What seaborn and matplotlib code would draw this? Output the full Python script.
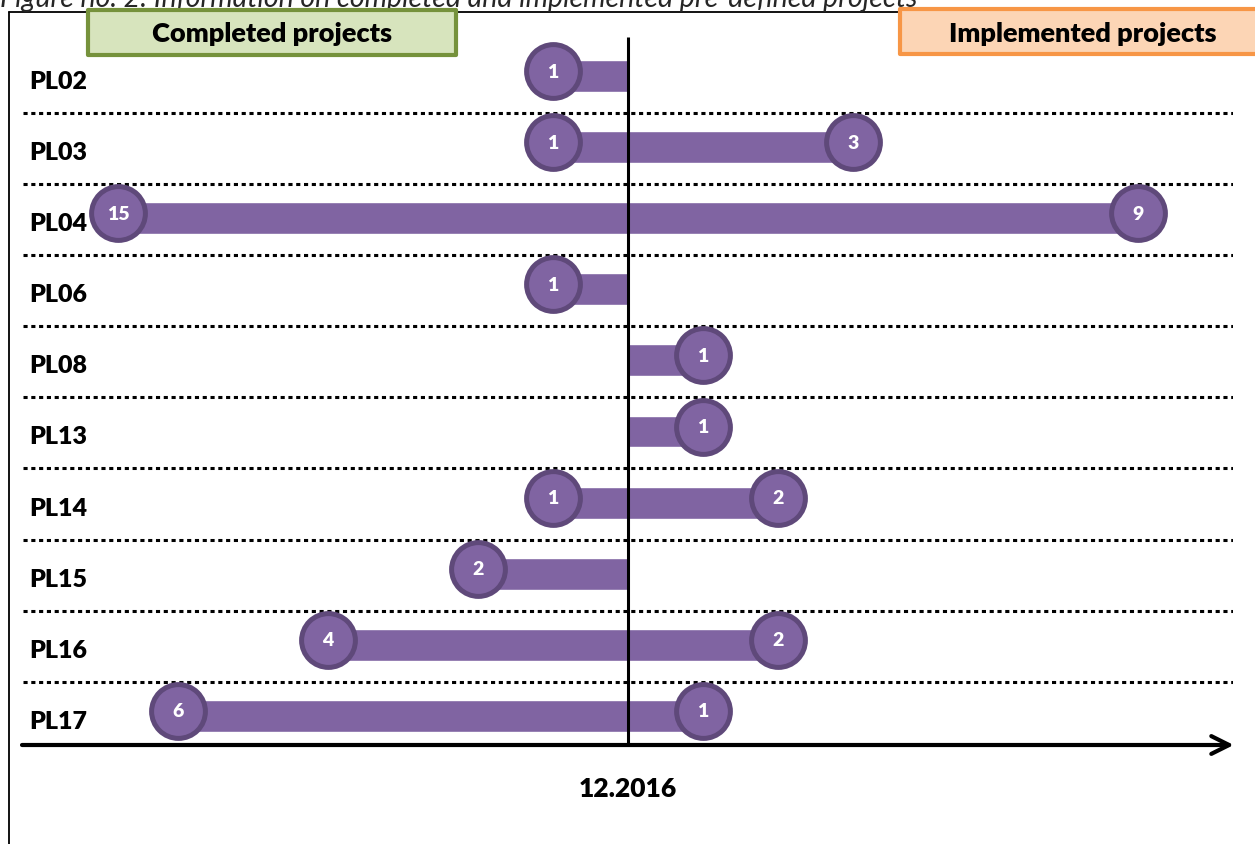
# -*- coding:utf-8 -*-

import numpy as np
import pandas as pd
import matplotlib
matplotlib.use("Agg")
import matplotlib.pyplot as plt
import matplotlib.patches as mpatches
from matplotlib.lines import Line2D
import seaborn as sns


# Datos
projects = ["PL02", "PL03", "PL04", "PL06", "PL08", "PL13", "PL14", "PL15", "PL16", "PL17"]
completed = [1, 1, 15, 1, 0, 0, 1, 2, 4, 6]
implemented = [0, 3, 9, 0, 1, 1, 2, 0, 2, 1]
# En el original las barras de PL04 están cortadas a esta longitud
display_cap = 6.8

title = "Figure no. 2: Information on completed and implemented pre-defined projects"
left_label = "Completed projects"
right_label = "Implemented projects"
date_label = "12.2016"

PURPLE = "#8064A2"
PURPLE_EDGE = "#5F497A"
BOLD = "heavy"

sns.set_style("white")
plt.rcParams["font.family"] = ["Lato", "DejaVu Sans"]

W, H = 1255, 845


def fx(px):
    return px / W


def fy(py):
    return 1 - py / H


def build_frame(fig):
    """Marco, título y cajas de leyenda."""
    fig.text(fx(0), fy(7), title, style="italic", fontsize=20.5, va="baseline", ha="left")
    fig.add_artist(Line2D([fx(9), fx(9)], [0, fy(13)], transform=fig.transFigure, color="black", lw=1.3))
    fig.add_artist(Line2D([fx(9), 1], [fy(13), fy(13)], transform=fig.transFigure, color="black", lw=1.3))

    boxes = [
        (88, 456, 11, 56, "#D7E4BD", "#76923C", left_label, 272),
        (900, 1262, 10, 55, "#FCD5B5", "#F79646", right_label, 1083),
    ]
    for x0, x1, y0, y1, fc, ec, txt, tx in boxes:
        rect = mpatches.Rectangle((fx(x0), fy(y1)), fx(x1 - x0), (y1 - y0) / H,
                                  transform=fig.transFigure, facecolor=fc, edgecolor=ec,
                                  lw=3, joinstyle="round", zorder=5)
        fig.add_artist(rect)
        fig.text(fx(tx), fy((y0 + y1) / 2 + 1), txt, fontsize=19.5, fontweight=BOLD,
                 color="black", ha="center", va="center", zorder=6)


def main():
    fig = plt.figure(figsize=(W / 100, H / 100), dpi=100)
    ax_left, ax_right, ax_top, ax_bottom = 22, 1233, 13, 746
    ax = fig.add_axes([fx(ax_left), fy(ax_bottom), fx(ax_right - ax_left), (ax_bottom - ax_top) / H])

    comp_shown = np.minimum(completed, display_cap)
    impl_shown = np.minimum(implemented, display_cap)
    df = pd.DataFrame({"project": projects, "left": -comp_shown, "right": impl_shown})

    sns.barplot(data=df, x="left", y="project", order=projects, orient="h", color=PURPLE,
                saturation=1, width=0.45, errorbar=None, ax=ax, zorder=2)
    sns.barplot(data=df, x="right", y="project", order=projects, orient="h", color=PURPLE,
                saturation=1, width=0.45, errorbar=None, ax=ax, zorder=2)

    scale = 75.0
    center = 628
    xmin, xmax = -(center - ax_left) / scale, (ax_right - center) / scale
    row0, row_step = 77, 71.1
    ymax = (ax_bottom - row0) / row_step
    ymin = (ax_top - row0) / row_step
    ax.set_xlim(xmin, xmax)
    ax.set_ylim(ymax, ymin)
    ax.axis("off")

    # separadores punteados
    for i in range(1, len(projects)):
        ax.plot([xmin + 0.01, xmax], [i - 0.48, i - 0.48], color="black", lw=2.2,
                linestyle=(0, (1.35, 1.2)), dash_capstyle="butt", zorder=1)

    # línea vertical del corte temporal
    ax.plot([0, 0], [(38 - row0) / row_step, ymax], color="black", lw=2.2, zorder=3,
            solid_capstyle="butt")

    # eje con flecha
    ax.annotate("", xy=(xmax + 0.01, ymax), xytext=(xmin, ymax), xycoords="data",
                arrowprops=dict(arrowstyle="->", lw=3, color="black", mutation_scale=32,
                                shrinkA=0, shrinkB=0), annotation_clip=False)

    # círculos con el número de proyectos
    for i, name in enumerate(projects):
        ax.text(xmin + 0.1, i + 0.07, name, fontsize=18, fontweight=BOLD,
                color="black", ha="left", va="center")
        for val, pos in ((completed[i], -comp_shown[i]), (implemented[i], impl_shown[i])):
            if val == 0:
                continue
            ax.scatter([pos], [i - 0.07], s=1500, color=PURPLE, edgecolor=PURPLE_EDGE,
                       linewidth=3.6, zorder=4, clip_on=False)
            ax.text(pos, i - 0.07, str(val), color="white", fontsize=14,
                    fontweight=BOLD, ha="center", va="center", zorder=5)

    fig.text(fx(center), fy(789), date_label, fontsize=19, fontweight=BOLD,
             color="black", ha="center", va="center")

    build_frame(fig)
    fig.savefig("out.png", dpi=100, facecolor="white")
    plt.close(fig)


if __name__ == "__main__":
    main()
